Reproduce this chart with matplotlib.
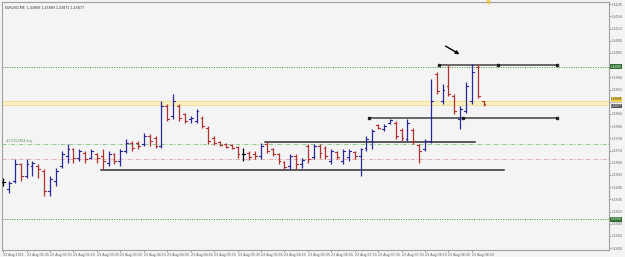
import matplotlib
matplotlib.use('Agg')
import matplotlib.pyplot as plt
import matplotlib.transforms as mtransforms

'''
EURUSD M5 bar chart (MetaTrader style) with trend lines and order levels
'''

# bar data, one entry per 5 minute bar

highs = [1.43636, 1.43626, 1.43698, 1.43685, 1.43698, 1.43691, 1.43681, 1.43665, 1.43642, 1.43668,
         1.43724, 1.43746, 1.43733, 1.43730, 1.43724, 1.43730, 1.43717, 1.43730, 1.43724, 1.43717,
         1.43730, 1.43763, 1.43756, 1.43756, 1.43782, 1.43779, 1.43772, 1.43886, 1.43877, 1.43912,
         1.43877, 1.43847, 1.43838, 1.43860, 1.43838, 1.43805, 1.43772, 1.43756, 1.43750, 1.43746,
         1.43740, 1.43733, 1.43724, 1.43724, 1.43750, 1.43756, 1.43733, 1.43717, 1.43691, 1.43714,
         1.43714, 1.43701, 1.43746, 1.43746, 1.43746, 1.43740, 1.43730, 1.43724, 1.43730, 1.43730,
         1.43724, 1.43733, 1.43772, 1.43795, 1.43812, 1.43812, 1.43828, 1.43821, 1.43799, 1.43828,
         1.43799, 1.43746, 1.43763, 1.43958, 1.43984, 1.43942, 1.44007, 1.43909, 1.43870, 1.43951,
         1.44010, 1.44010, 1.43889]

lows = [1.43610, 1.43587, 1.43620, 1.43626, 1.43636, 1.43642, 1.43636, 1.43577, 1.43577, 1.43610,
        1.43668, 1.43685, 1.43685, 1.43691, 1.43685, 1.43698, 1.43685, 1.43665, 1.43675, 1.43681,
        1.43675, 1.43717, 1.43724, 1.43730, 1.43740, 1.43740, 1.43733, 1.43733, 1.43821, 1.43828,
        1.43821, 1.43815, 1.43815, 1.43815, 1.43799, 1.43746, 1.43743, 1.43740, 1.43733, 1.43730,
        1.43701, 1.43691, 1.43694, 1.43698, 1.43698, 1.43717, 1.43707, 1.43681, 1.43665, 1.43665,
        1.43665, 1.43668, 1.43685, 1.43698, 1.43701, 1.43698, 1.43681, 1.43698, 1.43681, 1.43691,
        1.43698, 1.43642, 1.43724, 1.43730, 1.43795, 1.43789, 1.43812, 1.43763, 1.43756, 1.43756,
        1.43746, 1.43685, 1.43724, 1.43750, 1.43909, 1.43877, 1.43903, 1.43844, 1.43795, 1.43847,
        1.43877, 1.43896, 1.43871]

opens = [1.43623, 1.43600, 1.43626, 1.43681, 1.43642, 1.43675, 1.43675, 1.43659, 1.43594, 1.43626,
         1.43675, 1.43707, 1.43730, 1.43701, 1.43717, 1.43701, 1.43714, 1.43707, 1.43685, 1.43714,
         1.43691, 1.43724, 1.43750, 1.43750, 1.43746, 1.43772, 1.43766, 1.43740, 1.43870, 1.43838,
         1.43870, 1.43844, 1.43828, 1.43821, 1.43831, 1.43799, 1.43766, 1.43753, 1.43746, 1.43743,
         1.43737, 1.43714, 1.43717, 1.43714, 1.43707, 1.43746, 1.43730, 1.43714, 1.43688, 1.43675,
         1.43707, 1.43681, 1.43740, 1.43704, 1.43740, 1.43733, 1.43691, 1.43720, 1.43691, 1.43704,
         1.43720, 1.43707, 1.43733, 1.43756, 1.43808, 1.43795, 1.43815, 1.43815, 1.43792, 1.43763,
         1.43792, 1.43743, 1.43730, 1.43756, 1.43977, 1.43886, 1.43935, 1.43903, 1.43828, 1.43854,
         1.43886, 1.44000, 1.43889]

closes = [1.43623, 1.43620, 1.43681, 1.43642, 1.43681, 1.43685, 1.43665, 1.43594, 1.43633, 1.43659,
          1.43714, 1.43730, 1.43701, 1.43724, 1.43698, 1.43724, 1.43701, 1.43691, 1.43714, 1.43691,
          1.43724, 1.43750, 1.43733, 1.43740, 1.43772, 1.43756, 1.43740, 1.43870, 1.43828, 1.43886,
          1.43831, 1.43821, 1.43831, 1.43854, 1.43805, 1.43756, 1.43750, 1.43743, 1.43737, 1.43733,
          1.43714, 1.43714, 1.43704, 1.43707, 1.43740, 1.43724, 1.43714, 1.43691, 1.43671, 1.43707,
          1.43681, 1.43694, 1.43698, 1.43740, 1.43717, 1.43707, 1.43724, 1.43704, 1.43724, 1.43724,
          1.43707, 1.43730, 1.43763, 1.43789, 1.43799, 1.43805, 1.43825, 1.43772, 1.43766, 1.43815,
          1.43756, 1.43724, 1.43756, 1.43886, 1.43919, 1.43925, 1.43909, 1.43854, 1.43860, 1.43935,
          1.43984, 1.43903, 1.43877]

time_labels = ['23 Aug 2011', '23 Aug 02:35', '23 Aug 02:55', '23 Aug 03:15', '23 Aug 03:35',
               '23 Aug 03:55', '23 Aug 04:15', '23 Aug 04:35', '23 Aug 04:55', '23 Aug 05:15',
               '23 Aug 05:35', '23 Aug 05:55', '23 Aug 06:15', '23 Aug 06:35', '23 Aug 06:55',
               '23 Aug 07:15', '23 Aug 07:35', '23 Aug 07:55', '23 Aug 08:15', '23 Aug 08:35',
               '23 Aug 08:55']
time_label_bars = [0, 4, 8, 12, 16, 20, 24, 28, 32, 36, 40, 44, 48, 52, 56, 60, 64, 68, 72, 76, 80]

price_ticks = [1.43405, 1.43445, 1.43485, 1.43525, 1.43565, 1.43605, 1.43645, 1.43685, 1.43725,
               1.43765, 1.43805, 1.43845, 1.43885, 1.43925, 1.43965, 1.44005, 1.44045, 1.44085,
               1.44125, 1.44165, 1.44205]

# levels
alert_levels = [1.44000, 1.43500]       # green dotted alert lines
buy_level = 1.43746                      # order open line
stop_level = 1.43698                     # stop loss line
band_low, band_high = 1.43873, 1.43888   # yellow band
bid_price = 1.43877
shift_bar = 82.8                         # chart shift marker on the top border

# horizontal trend lines: price, start bar, end bar, middle anchor
trend_prices = [1.44007, 1.43831, 1.43754, 1.43662]
trend_starts = [74.4, 62.5, 44.7, 16.7]
trend_ends = [94.5, 94.5, 80.5, 85.5]
trend_mids = [84.5, 78.5, None, None]

title = 'EURUSD,M5  1.43889 1.43889 1.43871 1.43877'
order_label = '#17312984 buy'

bg = '#f4f4f4'
up_col = '#28289a'
down_col = '#b23030'
fs = 2.3
fs_price = 2.0

fig = plt.figure(figsize=(6.25, 2.57), dpi=100, facecolor=bg)
ax = fig.add_axes([2 / 625, 7 / 257, 607 / 625, 248 / 257], facecolor=bg)

ax.set_xlim(-0.2, 103.4)
ax.set_ylim(1.43399, 1.44212)

# background levels
ax.axhspan(band_low, band_high, color='#fbf1c0', lw=0, zorder=1)
ax.axhline(band_low, color='#f0dc90', lw=0.6, zorder=1)
ax.axhline(band_high, color='#f0dc90', lw=0.6, zorder=1)
for lv in alert_levels:
    ax.axhline(lv, color='#3f8f3f', lw=0.7, ls=(0, (1, 1.5)), zorder=1)
ax.axhline(buy_level, color='#7cc47c', lw=0.6, ls=(0, (5, 2, 1, 2)), zorder=1)
ax.axhline(stop_level, color='#e3a0a0', lw=0.6, ls=(0, (5, 2, 1, 2)), zorder=1)

# trend lines
for p, s, e, m in zip(trend_prices, trend_starts, trend_ends, trend_mids):
    if m is None:
        ax.plot([s, e], [p, p], color='#303030', lw=1.1, zorder=2)
    else:
        ax.plot([s, e], [p, p], color='#404040', lw=1.1, zorder=2)
        ax.plot([s, m, e], [p, p, p], 's', color='#202020', ms=1.6, zorder=3)

# OHLC bars
tick = 0.32
for i, (o, h, l, c) in enumerate(zip(opens, highs, lows, closes)):
    if c > o:
        col = up_col
    elif c < o:
        col = down_col
    else:
        col = 'black'
    ax.plot([i, i], [l, h], color=col, lw=0.9, zorder=4, solid_capstyle='butt')
    ax.plot([i - tick, i], [o, o], color=col, lw=0.8, zorder=4)
    ax.plot([i, i + tick], [c, c], color=col, lw=0.8, zorder=4)

# arrow pointing to the high
ax.annotate('', xy=(78.3, 1.44036), xytext=(75.1, 1.44072),
            arrowprops=dict(arrowstyle='-|>', color='black', lw=1.0, mutation_scale=5),
            zorder=5)

# chart shift marker
ax.plot([shift_bar], [1.0], marker='v', color='#e8c840', ms=2.2,
        transform=mtransforms.blended_transform_factory(ax.transData, ax.transAxes),
        clip_on=False, zorder=6)

# texts
ax.text(0.005, 0.985, title, transform=ax.transAxes, fontsize=fs, color='#333333',
        va='top', ha='left')
ax.text(0.5, buy_level + 0.00004, order_label, fontsize=fs, color='#5a8a5a',
        va='bottom', ha='left')

# axes look
for side in ['top', 'bottom', 'left', 'right']:
    ax.spines[side].set_color('#a0a0a0')
    ax.spines[side].set_linewidth(0.8)

ax.yaxis.tick_right()
ax.set_yticks(price_ticks)
ax.set_yticklabels(['%.5f' % v for v in price_ticks])
ax.tick_params(axis='y', labelsize=fs_price, colors='#606060', length=1.2, width=0.4, pad=0.6)

ax.set_xticks(time_label_bars)
ax.set_xticklabels(time_labels, ha='left')
ax.tick_params(axis='x', labelsize=fs, colors='#606060', length=1.5, width=0.4, pad=0.5)

# highlighted price labels on the right axis
trans = mtransforms.blended_transform_factory(ax.transAxes, ax.transData)
for lv in alert_levels:
    ax.text(1.003, lv, '%.5f' % lv, transform=trans, fontsize=fs_price, color='white',
            va='center', ha='left', zorder=6,
            bbox=dict(boxstyle='square,pad=0.15', fc='#2f6f2f', ec='none'))
ax.text(1.003, band_high + 0.00005, '%.5f' % band_high, transform=trans, fontsize=fs_price,
        color='#333333', va='center', ha='left', zorder=6,
        bbox=dict(boxstyle='square,pad=0.1', fc='#f2d24a', ec='none'))
ax.text(1.003, bid_price - 0.00006, '%.5f' % bid_price, transform=trans, fontsize=fs_price,
        color='white', va='center', ha='left', zorder=6,
        bbox=dict(boxstyle='square,pad=0.1', fc='#505050', ec='none'))

fig.savefig('out.png', dpi=100, facecolor=bg)
